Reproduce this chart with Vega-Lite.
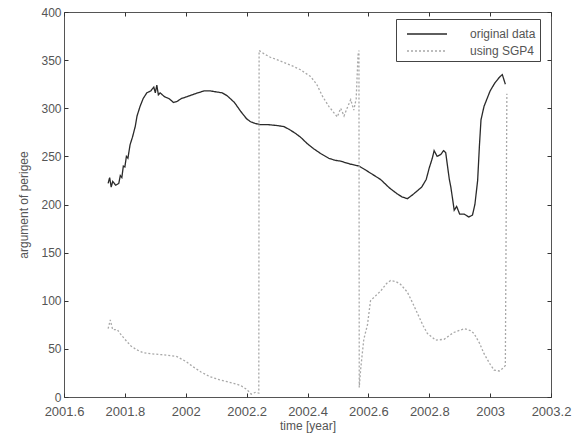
{
  "$schema": "https://vega.github.io/schema/vega-lite/v6.json",
  "width": 487,
  "height": 385,
  "autosize": {"type": "none"},
  "padding": {"left": 64, "top": 12, "right": 31, "bottom": 45},
  "background": "white",
  "config": {
    "view": {"stroke": "#555", "strokeWidth": 1},
    "font": "Liberation Sans",
    "axis": {"grid": false, "domain": false, "tickSize": -4, "tickColor": "#333", "labelPadding": 12, "labelFlush": false, "labelOverlap": false, "labelFont": "Liberation Sans", "labelFontSize": 13, "labelColor": "#555", "titleFont": "Liberation Sans", "titleFontSize": 12, "titleFontWeight": "normal", "titleColor": "#555"}
  },
  "data": {"values": [
    {"series": "original data", "year": 2001.745, "value": 222},
    {"series": "original data", "year": 2001.750, "value": 228},
    {"series": "original data", "year": 2001.755, "value": 218},
    {"series": "original data", "year": 2001.760, "value": 224},
    {"series": "original data", "year": 2001.770, "value": 220},
    {"series": "original data", "year": 2001.780, "value": 222},
    {"series": "original data", "year": 2001.785, "value": 230},
    {"series": "original data", "year": 2001.790, "value": 228},
    {"series": "original data", "year": 2001.795, "value": 240},
    {"series": "original data", "year": 2001.800, "value": 239},
    {"series": "original data", "year": 2001.805, "value": 250},
    {"series": "original data", "year": 2001.810, "value": 248},
    {"series": "original data", "year": 2001.817, "value": 262},
    {"series": "original data", "year": 2001.825, "value": 270},
    {"series": "original data", "year": 2001.834, "value": 281},
    {"series": "original data", "year": 2001.840, "value": 292},
    {"series": "original data", "year": 2001.850, "value": 302},
    {"series": "original data", "year": 2001.860, "value": 310},
    {"series": "original data", "year": 2001.872, "value": 316},
    {"series": "original data", "year": 2001.885, "value": 318},
    {"series": "original data", "year": 2001.895, "value": 322},
    {"series": "original data", "year": 2001.900, "value": 316},
    {"series": "original data", "year": 2001.905, "value": 324},
    {"series": "original data", "year": 2001.910, "value": 314},
    {"series": "original data", "year": 2001.916, "value": 316},
    {"series": "original data", "year": 2001.930, "value": 312},
    {"series": "original data", "year": 2001.945, "value": 310},
    {"series": "original data", "year": 2001.960, "value": 306},
    {"series": "original data", "year": 2001.971, "value": 307},
    {"series": "original data", "year": 2001.985, "value": 310},
    {"series": "original data", "year": 2002.004, "value": 312},
    {"series": "original data", "year": 2002.030, "value": 315},
    {"series": "original data", "year": 2002.060, "value": 318},
    {"series": "original data", "year": 2002.081, "value": 318},
    {"series": "original data", "year": 2002.100, "value": 317},
    {"series": "original data", "year": 2002.120, "value": 316},
    {"series": "original data", "year": 2002.136, "value": 313},
    {"series": "original data", "year": 2002.160, "value": 306},
    {"series": "original data", "year": 2002.180, "value": 297},
    {"series": "original data", "year": 2002.200, "value": 289},
    {"series": "original data", "year": 2002.213, "value": 286},
    {"series": "original data", "year": 2002.230, "value": 284},
    {"series": "original data", "year": 2002.245, "value": 283},
    {"series": "original data", "year": 2002.270, "value": 283},
    {"series": "original data", "year": 2002.300, "value": 282},
    {"series": "original data", "year": 2002.322, "value": 281},
    {"series": "original data", "year": 2002.340, "value": 278},
    {"series": "original data", "year": 2002.360, "value": 274},
    {"series": "original data", "year": 2002.377, "value": 270},
    {"series": "original data", "year": 2002.400, "value": 263},
    {"series": "original data", "year": 2002.420, "value": 258},
    {"series": "original data", "year": 2002.443, "value": 253},
    {"series": "original data", "year": 2002.470, "value": 248},
    {"series": "original data", "year": 2002.490, "value": 246},
    {"series": "original data", "year": 2002.509, "value": 245},
    {"series": "original data", "year": 2002.540, "value": 242},
    {"series": "original data", "year": 2002.569, "value": 240},
    {"series": "original data", "year": 2002.590, "value": 236},
    {"series": "original data", "year": 2002.610, "value": 232},
    {"series": "original data", "year": 2002.640, "value": 226},
    {"series": "original data", "year": 2002.670, "value": 217},
    {"series": "original data", "year": 2002.695, "value": 211},
    {"series": "original data", "year": 2002.710, "value": 208},
    {"series": "original data", "year": 2002.728, "value": 206},
    {"series": "original data", "year": 2002.745, "value": 210},
    {"series": "original data", "year": 2002.760, "value": 214},
    {"series": "original data", "year": 2002.775, "value": 218},
    {"series": "original data", "year": 2002.790, "value": 226},
    {"series": "original data", "year": 2002.800, "value": 238},
    {"series": "original data", "year": 2002.810, "value": 248},
    {"series": "original data", "year": 2002.816, "value": 256},
    {"series": "original data", "year": 2002.826, "value": 250},
    {"series": "original data", "year": 2002.838, "value": 252},
    {"series": "original data", "year": 2002.847, "value": 256},
    {"series": "original data", "year": 2002.854, "value": 254},
    {"series": "original data", "year": 2002.860, "value": 240},
    {"series": "original data", "year": 2002.866, "value": 226},
    {"series": "original data", "year": 2002.871, "value": 218},
    {"series": "original data", "year": 2002.877, "value": 205},
    {"series": "original data", "year": 2002.882, "value": 194},
    {"series": "original data", "year": 2002.890, "value": 198},
    {"series": "original data", "year": 2002.900, "value": 190},
    {"series": "original data", "year": 2002.915, "value": 190},
    {"series": "original data", "year": 2002.930, "value": 187},
    {"series": "original data", "year": 2002.942, "value": 189},
    {"series": "original data", "year": 2002.950, "value": 200},
    {"series": "original data", "year": 2002.959, "value": 225},
    {"series": "original data", "year": 2002.965, "value": 262},
    {"series": "original data", "year": 2002.970, "value": 288},
    {"series": "original data", "year": 2002.980, "value": 302},
    {"series": "original data", "year": 2002.990, "value": 310},
    {"series": "original data", "year": 2003.000, "value": 318},
    {"series": "original data", "year": 2003.015, "value": 326},
    {"series": "original data", "year": 2003.030, "value": 332},
    {"series": "original data", "year": 2003.040, "value": 335},
    {"series": "original data", "year": 2003.050, "value": 325},
    {"series": "using SGP4", "year": 2001.745, "value": 71},
    {"series": "using SGP4", "year": 2001.752, "value": 80},
    {"series": "using SGP4", "year": 2001.760, "value": 70},
    {"series": "using SGP4", "year": 2001.775, "value": 70},
    {"series": "using SGP4", "year": 2001.784, "value": 66},
    {"series": "using SGP4", "year": 2001.800, "value": 60},
    {"series": "using SGP4", "year": 2001.820, "value": 53},
    {"series": "using SGP4", "year": 2001.839, "value": 49},
    {"series": "using SGP4", "year": 2001.860, "value": 46},
    {"series": "using SGP4", "year": 2001.883, "value": 45},
    {"series": "using SGP4", "year": 2001.920, "value": 44},
    {"series": "using SGP4", "year": 2001.950, "value": 43},
    {"series": "using SGP4", "year": 2001.971, "value": 42},
    {"series": "using SGP4", "year": 2002.000, "value": 37},
    {"series": "using SGP4", "year": 2002.026, "value": 31},
    {"series": "using SGP4", "year": 2002.050, "value": 26},
    {"series": "using SGP4", "year": 2002.080, "value": 21},
    {"series": "using SGP4", "year": 2002.110, "value": 18},
    {"series": "using SGP4", "year": 2002.136, "value": 16},
    {"series": "using SGP4", "year": 2002.160, "value": 14},
    {"series": "using SGP4", "year": 2002.180, "value": 12},
    {"series": "using SGP4", "year": 2002.200, "value": 8},
    {"series": "using SGP4", "year": 2002.215, "value": 3},
    {"series": "using SGP4", "year": 2002.230, "value": 5},
    {"series": "using SGP4", "year": 2002.240, "value": 4},
    {"series": "using SGP4", "year": 2002.241, "value": 360},
    {"series": "using SGP4", "year": 2002.260, "value": 356},
    {"series": "using SGP4", "year": 2002.278, "value": 353},
    {"series": "using SGP4", "year": 2002.320, "value": 348},
    {"series": "using SGP4", "year": 2002.350, "value": 344},
    {"series": "using SGP4", "year": 2002.377, "value": 340},
    {"series": "using SGP4", "year": 2002.410, "value": 333},
    {"series": "using SGP4", "year": 2002.430, "value": 325},
    {"series": "using SGP4", "year": 2002.450, "value": 312},
    {"series": "using SGP4", "year": 2002.470, "value": 302},
    {"series": "using SGP4", "year": 2002.485, "value": 296},
    {"series": "using SGP4", "year": 2002.498, "value": 291},
    {"series": "using SGP4", "year": 2002.509, "value": 300},
    {"series": "using SGP4", "year": 2002.520, "value": 292},
    {"series": "using SGP4", "year": 2002.530, "value": 300},
    {"series": "using SGP4", "year": 2002.542, "value": 309},
    {"series": "using SGP4", "year": 2002.552, "value": 298},
    {"series": "using SGP4", "year": 2002.560, "value": 310},
    {"series": "using SGP4", "year": 2002.566, "value": 355},
    {"series": "using SGP4", "year": 2002.569, "value": 360},
    {"series": "using SGP4", "year": 2002.570, "value": 10},
    {"series": "using SGP4", "year": 2002.575, "value": 30},
    {"series": "using SGP4", "year": 2002.585, "value": 60},
    {"series": "using SGP4", "year": 2002.597, "value": 75},
    {"series": "using SGP4", "year": 2002.607, "value": 100},
    {"series": "using SGP4", "year": 2002.620, "value": 104},
    {"series": "using SGP4", "year": 2002.640, "value": 110},
    {"series": "using SGP4", "year": 2002.660, "value": 118},
    {"series": "using SGP4", "year": 2002.673, "value": 121},
    {"series": "using SGP4", "year": 2002.690, "value": 120},
    {"series": "using SGP4", "year": 2002.706, "value": 117},
    {"series": "using SGP4", "year": 2002.728, "value": 109},
    {"series": "using SGP4", "year": 2002.745, "value": 98},
    {"series": "using SGP4", "year": 2002.761, "value": 87},
    {"series": "using SGP4", "year": 2002.780, "value": 74},
    {"series": "using SGP4", "year": 2002.794, "value": 66},
    {"series": "using SGP4", "year": 2002.821, "value": 59},
    {"series": "using SGP4", "year": 2002.849, "value": 60},
    {"series": "using SGP4", "year": 2002.880, "value": 67},
    {"series": "using SGP4", "year": 2002.915, "value": 71},
    {"series": "using SGP4", "year": 2002.935, "value": 69},
    {"series": "using SGP4", "year": 2002.947, "value": 66},
    {"series": "using SGP4", "year": 2002.965, "value": 56},
    {"series": "using SGP4", "year": 2002.980, "value": 45},
    {"series": "using SGP4", "year": 2003.000, "value": 34},
    {"series": "using SGP4", "year": 2003.013, "value": 28},
    {"series": "using SGP4", "year": 2003.030, "value": 27},
    {"series": "using SGP4", "year": 2003.046, "value": 31},
    {"series": "using SGP4", "year": 2003.050, "value": 33},
    {"series": "using SGP4", "year": 2003.055, "value": 315}
  ]},
  "layer": [
    {
      "mark": {"type": "line", "opacity": 0},
      "encoding": {
        "x": {"field": "year", "type": "quantitative",
          "scale": {"domain": [2001.6, 2003.2], "nice": false, "zero": false},
          "axis": {"orient": "top", "title": null, "labels": false, "values": [2001.6, 2001.8, 2002, 2002.2, 2002.4, 2002.6, 2002.8, 2003, 2003.2]}},
        "y": {"field": "value", "type": "quantitative",
          "scale": {"domain": [0, 400], "nice": false},
          "axis": {"orient": "right", "title": null, "labels": false, "values": [0, 50, 100, 150, 200, 250, 300, 350, 400]}},
        "detail": {"field": "series"}
      }
    },
    {
      "mark": {"type": "line", "strokeWidth": 1.3, "interpolate": "linear"},
      "encoding": {
        "x": {"field": "year", "type": "quantitative", "title": "time [year]",
          "scale": {"domain": [2001.6, 2003.2], "nice": false, "zero": false},
          "axis": {"orient": "bottom", "values": [2001.6, 2001.8, 2002, 2002.2, 2002.4, 2002.6, 2002.8, 2003, 2003.2], "format": ".1~f", "titlePadding": 2}},
        "y": {"field": "value", "type": "quantitative", "title": "argument of perigee",
          "scale": {"domain": [0, 400], "nice": false},
          "axis": {"orient": "left", "values": [0, 50, 100, 150, 200, 250, 300, 350, 400], "labelPadding": 7, "labelFontSize": 12, "titlePadding": 10}},
        "color": {"field": "series", "type": "nominal",
          "scale": {"domain": ["original data", "using SGP4"], "range": ["#2a2a2a", "#a8a8a8"]},
          "legend": {"title": null, "orient": "none", "legendX": 332, "legendY": 7, "symbolType": "M-2,0H2", "symbolSize": 400, "symbolStrokeWidth": 1.3, "symbolOffset": 16, "labelOffset": 32, "labelFontSize": 12, "labelColor": "#555", "labelExpr": "datum.label + '     '", "strokeColor": "#444", "fillColor": "white", "padding": 4, "rowPadding": 0, "labelLimit": 300}},
        "strokeDash": {"field": "series", "type": "nominal",
          "scale": {"domain": ["original data", "using SGP4"], "range": [[1, 0], [2, 2]]},
          "legend": {"title": null, "orient": "none", "legendX": 332, "legendY": 7, "symbolType": "M-2,0H2", "symbolSize": 400, "symbolStrokeWidth": 1.3, "symbolOffset": 16, "labelOffset": 32, "labelFontSize": 12, "labelColor": "#555", "labelExpr": "datum.label + '     '", "strokeColor": "#444", "fillColor": "white", "padding": 4, "rowPadding": 0, "labelLimit": 300}}
      }
    }
  ],
  "resolve": {"axis": {"x": "independent", "y": "independent"}}
}
